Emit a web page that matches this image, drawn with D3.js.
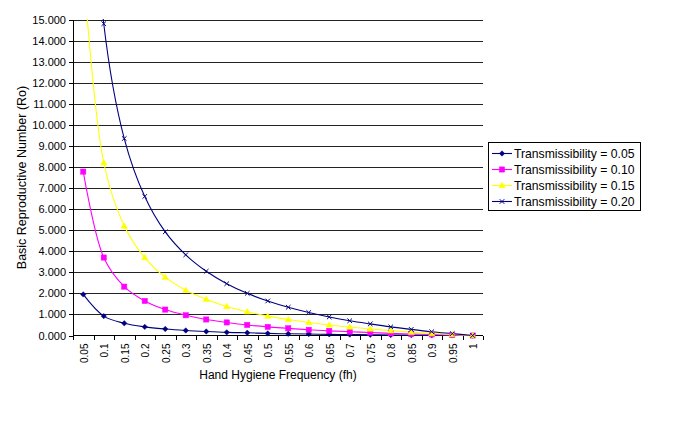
<!DOCTYPE html>
<html>
<head>
<meta charset="utf-8">
<script src="https://cdn.jsdelivr.net/npm/d3@7/dist/d3.min.js"></script>
<style>
  html, body { margin: 0; padding: 0; background: #fff; }
  svg { display: block; font-family: Arial, "Liberation Sans", sans-serif; }
</style>
</head>
<body>
<svg id="chart" width="685" height="428"></svg>
<script>
// ---- data ----
const categories = ["0.05","0.1","0.15","0.2","0.25","0.3","0.35","0.4","0.45","0.5",
                    "0.55","0.6","0.65","0.7","0.75","0.8","0.85","0.9","0.95","1"];
const seriesNames = ["Transmissibility = 0.05","Transmissibility = 0.10",
                     "Transmissibility = 0.15","Transmissibility = 0.20"];
const t005 = [1.95,0.92,0.58,0.41,0.31,0.24,0.19,0.15,0.13,0.10,0.08,0.07,0.055,0.045,0.035,0.025,0.018,0.011,0.005,0];
const t010 = [7.78,3.70,2.32,1.64,1.23,0.96,0.76,0.62,0.50,0.41,0.34,0.27,0.22,0.18,0.14,0.10,0.07,0.05,0.02,0];
const t015 = [17.5,8.2,5.2,3.7,2.77,2.15,1.72,1.38,1.13,0.92,0.76,0.62,0.50,0.40,0.31,0.23,0.16,0.10,0.05,0];
const t020 = [31.0,14.8,9.35,6.6,4.92,3.83,3.05,2.46,2.00,1.64,1.34,1.09,0.88,0.70,0.55,0.41,0.29,0.18,0.09,0];
const yTicks = [0,1,2,3,4,5,6,7,8,9,10,11,12,13,14,15];
const xTitle = "Hand Hygiene Frequency (fh)";
const yTitle = "Basic Reproductive Number (Ro)";

const seriesValues = [t005, t010, t015, t020];
const colors = ["#000080", "#FF00FF", "#FFFF00", "#000080"];
const markers = ["diamond", "square", "triangle", "cross"];

// ---- layout ----
const svg = d3.select("#chart");
const L = 73, R = 483, T = 19.5, B = 335.5;

const x = d3.scaleBand().domain(categories).range([L, R]).padding(0);
const cx = c => x(c) + x.bandwidth() / 2;
const y = d3.scaleLinear().domain([0, 15]).range([B, T]);

// clip
svg.append("defs").append("clipPath").attr("id", "plotClip")
  .append("rect").attr("x", L).attr("y", T - 0.5).attr("width", R - L + 2).attr("height", B - T + 1);

// gridlines
svg.append("g")
  .attr("transform", `translate(${L},0)`)
  .call(d3.axisLeft(y).tickValues(yTicks.filter(v => v > 0)).tickSize(-(R - L)).tickFormat(""))
  .call(g => g.select(".domain").remove())
  .call(g => g.selectAll("line").attr("stroke", "#222").attr("stroke-width", 1)
    .attr("shape-rendering", "crispEdges"));

// y axis
const yAxis = svg.append("g")
  .attr("transform", `translate(${L},0)`)
  .call(d3.axisLeft(y).tickValues(yTicks).tickSize(4).tickPadding(3).tickFormat(d3.format(".3f")));
yAxis.select(".domain").attr("stroke", "#000").attr("d", `M0,${T}V${B}`).attr("shape-rendering", "crispEdges");
yAxis.selectAll("line").attr("stroke", "#000").attr("shape-rendering", "crispEdges");
yAxis.selectAll("text").attr("font-size", "11px").attr("fill", "#000")
  .attr("font-family", "Arial, 'Liberation Sans', sans-serif");

// x axis
const xAxis = svg.append("g")
  .attr("transform", `translate(0,${B})`)
  .call(d3.axisBottom(x).tickSize(0).tickPadding(0));
xAxis.select(".domain").attr("stroke", "#000").attr("d", `M${L},0H${R}`).attr("shape-rendering", "crispEdges");
xAxis.selectAll(".tick text")
  .attr("font-size", "10px").attr("fill", "#000")
  .attr("font-family", "Arial, 'Liberation Sans', sans-serif")
  .attr("text-anchor", "end")
  .attr("transform", "translate(1,8) rotate(-90)")
  .attr("x", 0).attr("y", 0).attr("dy", "0.35em");
// boundary tick marks between categories
const bounds = categories.map(c => x(c)).concat([R]);
svg.append("g").selectAll("line").data(bounds).join("line")
  .attr("x1", d => Math.round(d) + 0.5).attr("x2", d => Math.round(d) + 0.5)
  .attr("y1", B).attr("y2", B + 4)
  .attr("stroke", "#000").attr("shape-rendering", "crispEdges");

// axis titles
svg.append("text").attr("x", 278).attr("y", 379).attr("text-anchor", "middle")
  .attr("font-size", "12px").attr("fill", "#000").text(xTitle);
svg.append("text").attr("transform", `translate(26,${(T + B) / 2}) rotate(-90)`)
  .attr("text-anchor", "middle").attr("font-size", "12.5px").attr("fill", "#000").text(yTitle);

// series lines
const line = d3.line()
  .x((d, i) => cx(categories[i]))
  .y(d => y(d))
  .curve(d3.curveCatmullRom.alpha(0.5));

const plot = svg.append("g").attr("clip-path", "url(#plotClip)");
seriesValues.forEach((vals, s) => {
  plot.append("path").datum(vals)
    .attr("d", line).attr("fill", "none")
    .attr("stroke", colors[s]).attr("stroke-width", 1.1);
});

function drawMarker(g, type, px, py, color) {
  if (type === "diamond") {
    g.append("path").attr("d", `M${px},${py - 2.7}L${px + 2.7},${py}L${px},${py + 2.7}L${px - 2.7},${py}Z`)
      .attr("fill", color).attr("stroke", color).attr("stroke-width", 0.5);
  } else if (type === "square") {
    g.append("rect").attr("x", px - 2.6).attr("y", py - 2.6).attr("width", 5.2).attr("height", 5.2)
      .attr("fill", color).attr("stroke", color).attr("stroke-width", 0.5);
  } else if (type === "triangle") {
    g.append("path").attr("d", `M${px},${py - 3.2}L${px + 3.2},${py + 2.3}L${px - 3.2},${py + 2.3}Z`)
      .attr("fill", color).attr("stroke", color).attr("stroke-width", 0.5);
  } else {
    g.append("path").attr("d", `M${px - 2.3},${py - 2.3}L${px + 2.3},${py + 2.3}M${px - 2.3},${py + 2.3}L${px + 2.3},${py - 2.3}`)
      .attr("fill", "none").attr("stroke", color).attr("stroke-width", 1);
  }
}

const mk = svg.append("g");
seriesValues.forEach((vals, s) => {
  vals.forEach((v, i) => {
    if (v <= 15) drawMarker(mk, markers[s], cx(categories[i]), y(v), colors[s]);
  });
});

// legend
const lg = svg.append("g");
lg.append("rect").attr("x", 488.5).attr("y", 142.5).attr("width", 152).attr("height", 68)
  .attr("fill", "#fff").attr("stroke", "#000").attr("stroke-width", 1);
seriesNames.forEach((name, s) => {
  const ly = 153.5 + s * 16;
  lg.append("line").attr("x1", 492).attr("x2", 512).attr("y1", ly).attr("y2", ly)
    .attr("stroke", colors[s]).attr("stroke-width", 1.1);
  drawMarker(lg, markers[s], 502, ly, colors[s]);
  lg.append("text").attr("x", 514).attr("y", ly).attr("dy", "0.35em")
    .attr("font-size", "12.2px").attr("fill", "#000").text(name);
});
</script>
</body>
</html>
